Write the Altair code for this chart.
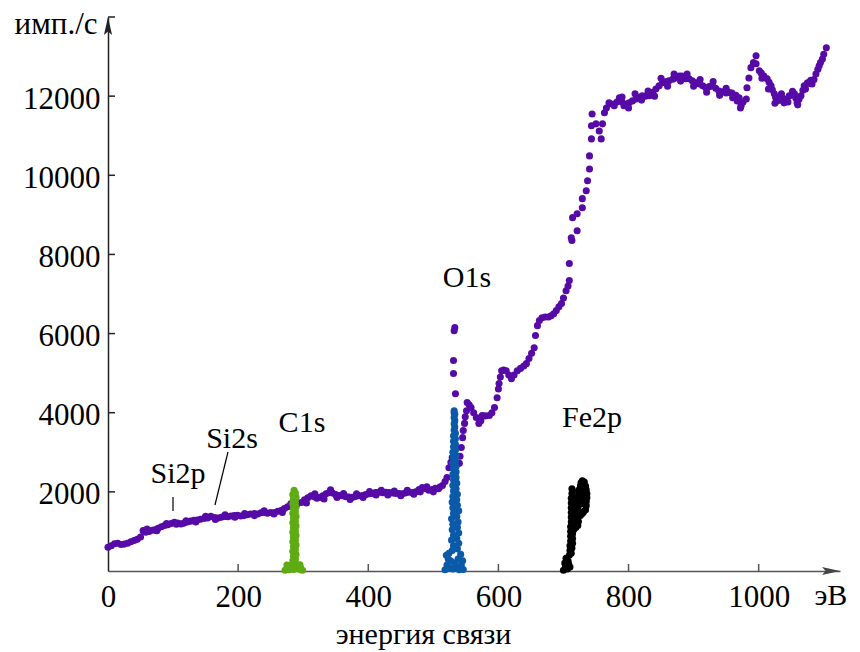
import altair as alt
import pandas as pd

# ---- data (E = binding energy, eV ; I = counts/s) ----
purple = [
    (0, 600), (5, 640), (10, 690), (15, 700), (20, 670), (25, 680), (30, 700), (35, 740), (40, 770),
    (45, 800), (50, 860), (54, 1020), (58, 980), (63, 1000), (68, 1030), (72, 1040), (77, 1080),
    (82, 1120), (87, 1150), (92, 1170), (97, 1200), (102, 1230), (107, 1210), (112, 1190), (117, 1210),
    (122, 1240), (127, 1260), (132, 1280), (137, 1290), (142, 1310), (148, 1330), (153, 1340),
    (158, 1380), (164, 1350), (169, 1340), (174, 1360), (179, 1380), (184, 1370), (189, 1390),
    (194, 1400), (199, 1410), (204, 1390), (209, 1400), (214, 1420), (219, 1440), (225, 1450),
    (230, 1440), (235, 1470), (240, 1480), (245, 1460), (250, 1480), (256, 1480), (261, 1510),
    (266, 1530), (271, 1580), (276, 1620), (281, 1700), (286, 1680), (291, 1690), (297, 1730),
    (302, 1800), (307, 1850), (312, 1900), (316, 1880), (321, 1840), (326, 1860), (330, 1900),
    (335, 1950), (340, 1980), (345, 1970), (350, 1930), (355, 1910), (360, 1900), (365, 1880),
    (370, 1870), (375, 1860), (380, 1880), (385, 1900), (391, 1910), (396, 1930), (401, 1950),
    (406, 1960), (411, 1980), (416, 1990), (422, 1980), (427, 1990), (432, 1980), (437, 1970),
    (442, 1960), (447, 1960), (452, 1950), (457, 1970), (462, 1990), (468, 1980), (473, 2000),
    (478, 2060), (483, 2110), (488, 2080), (493, 2040), (498, 2060), (503, 2090), (508, 2080),
    (514, 2160), (518, 2260), (521, 2360), (524, 2610), (527, 2750), (529, 2870),
    (531, 5320), (531, 4990), (532, 6070), (533, 6150), (534, 4480), (532, 4000),
    (540, 2720), (541, 2900), (543, 3120), (545, 3370), (546, 3550), (548, 3730), (549, 3900),
    (551, 4050), (552, 4260), (555, 4200), (558, 4130), (562, 4000), (566, 3880), (570, 3730),
    (573, 3800), (575, 3930), (580, 3920), (586, 3930), (590, 4000), (594, 4130), (598, 4380),
    (600, 4600), (601, 4740), (603, 4900), (605, 5060), (608, 5080), (612, 5060), (616, 4950),
    (620, 4860), (624, 4950), (629, 5060), (634, 5120), (639, 5180), (643, 5240), (647, 5370),
    (651, 5500), (655, 5640), (657, 5950), (660, 6200), (663, 6330), (667, 6400), (672, 6420),
    (677, 6420), (681, 6450), (685, 6500), (689, 6580), (693, 6680), (697, 6760), (700, 6900),
    (704, 7080), (707, 7200), (709, 7340), (709, 7770), (713, 8350), (712, 8420), (721, 8600),
    (714, 8930), (721, 9030), (729, 9180), (729, 9410), (735, 9610), (737, 9860), (740, 10160),
    (740, 10490), (743, 10920), (743, 11250), (744, 11550), (750, 11300), (755, 11120),
    (758, 10920), (760, 11300), (763, 11580), (766, 11700), (770, 11830), (774, 11800),
    (778, 11760), (782, 11850), (786, 11960), (790, 11850), (793, 11760), (797, 11800),
    (801, 11830), (806, 11880), (812, 11930), (816, 11970), (821, 12010), (826, 12000),
    (832, 12010), (837, 12100), (842, 12180), (847, 12260), (852, 12340), (857, 12360),
    (862, 12390), (868, 12430), (873, 12460), (878, 12510), (882, 12510), (888, 12440),
    (893, 12440), (898, 12390), (904, 12340), (909, 12310), (914, 12260), (919, 12210),
    (924, 12240), (929, 12260), (934, 12200), (939, 12130), (945, 12110), (950, 12080),
    (955, 12090), (959, 12080), (965, 12020), (970, 11960), (973, 11760), (976, 11850),
    (981, 11930), (982, 12210), (985, 12460), (988, 12720), (992, 12850), (996, 13020),
    (996, 12820), (1001, 12640), (1004, 12580), (1008, 12510), (1013, 12440), (1016, 12350),
    (1019, 12260), (1021, 12160), (1024, 12060), (1026, 11970), (1028, 11880), (1031, 11970),
    (1035, 12060), (1037, 11950), (1039, 11830), (1043, 11920), (1047, 12010), (1051, 12030),
    (1055, 12060), (1057, 11950), (1059, 11830), (1062, 11920), (1065, 12010), (1068, 12150),
    (1070, 12260), (1075, 12340), (1078, 12320), (1082, 12310), (1085, 12420), (1088, 12560),
    (1091, 12680), (1093, 12770), (1095, 12850), (1098, 12940), (1100, 13060), (1104, 13220),
]

# scattered points on the upper / lower edge of the purple band
purple_spread = [
    (60, 1060), (75, 1020), (90, 1200), (105, 1180), (120, 1270), (135, 1240), (150, 1380),
    (165, 1300), (180, 1420), (195, 1360), (210, 1450), (225, 1400), (240, 1520), (255, 1440),
    (268, 1480), (305, 1720), (318, 1950), (332, 1820), (342, 2050), (352, 1860), (362, 1960),
    (372, 1810), (382, 1950), (392, 1860), (402, 2010), (412, 1920), (420, 2040), (430, 1920),
    (440, 2020), (450, 1900), (460, 2040), (470, 1940), (480, 2000), (490, 2130), (500, 2000),
    (510, 2120), (790, 11980), (800, 11700), (810, 12060), (820, 11900), (830, 12130),
    (840, 12000), (850, 12450), (860, 12250), (870, 12560), (880, 12380), (890, 12560),
    (900, 12250), (910, 12420), (920, 12100), (930, 12370), (940, 12020), (950, 12200),
    (960, 11960), (967, 11880), (972, 11700), (1005, 12450), (1015, 12180), (1025, 11820),
    (1033, 11900), (1045, 11850), (1052, 12120), (1060, 11780), (1072, 12180), (1080, 12400),
]

c1s = [
    (272, 20), (276, 60), (280, 120), (284, 180), (288, 200), (292, 150), (296, 80), (299, 20),
    (275, 150), (295, 160), (278, 30), (296, 30), (285, 40), (290, 60), (282, 90), (292, 100),
    (284, 260), (288, 300), (285, 370), (289, 420), (284, 500), (288, 540), (285, 620), (289, 660),
    (284, 740), (288, 780), (285, 860), (289, 900), (284, 980), (288, 1020), (285, 1100),
    (289, 1140), (284, 1220), (288, 1260), (285, 1340), (289, 1380), (284, 1460), (288, 1500),
    (285, 1580), (289, 1620), (284, 1700), (288, 1740), (285, 1820), (289, 1860), (284, 1930),
    (288, 1970), (286, 2040),
]

o1s = [
    (518, 30), (521, 150), (523, 300), (520, 400), (525, 80), (530, 50), (535, 100), (540, 30),
    (543, 150), (546, 40), (527, 250), (538, 300), (542, 420), (524, 450), (533, 200), (545, 260),
    (529, 520), (537, 560), (531, 640), (539, 700), (528, 780), (536, 820), (531, 900),
    (539, 960), (529, 1040), (537, 1100), (530, 1180), (538, 1240), (528, 1320), (536, 1380),
    (531, 1460), (539, 1520), (530, 1600), (537, 1660), (529, 1740), (536, 1800), (530, 1880),
    (537, 1940), (531, 2020), (535, 2080), (530, 2160), (536, 2220), (531, 2300), (535, 2360),
    (530, 2440), (535, 2500), (531, 2580), (535, 2640), (530, 2720), (534, 2780), (531, 2860),
    (535, 2920), (530, 3000), (534, 3060), (531, 3140), (534, 3200), (531, 3280), (534, 3340),
    (531, 3420), (534, 3480), (532, 3560), (533, 3640), (532, 3720), (533, 3800), (532, 3880),
    (533, 3960), (532, 4050),
]

fe2p = [
    (700, 20), (703, 100), (706, 50), (702, 200), (707, 250), (710, 100), (704, 320), (708, 180),
    (709, 400), (712, 450), (710, 520), (713, 580), (710, 640), (714, 700), (711, 760), (714, 820),
    (711, 880), (714, 940), (711, 1000), (715, 1060), (711, 1120), (715, 1180), (712, 1240),
    (715, 1300), (712, 1360), (714, 1420), (712, 1480), (714, 1540), (712, 1600), (714, 1660),
    (712, 1720), (714, 1780), (712, 1840), (714, 1900), (713, 1960), (714, 2020), (713, 2080),
    (716, 1050), (719, 1100), (722, 1150), (723, 1250), (722, 1350), (723, 1450), (722, 1550),
    (723, 1650), (722, 1750), (723, 1850), (724, 1950), (724, 2050), (726, 2150), (727, 2230),
    (729, 2280), (732, 2250), (734, 2150), (735, 2050), (736, 1950), (736, 1850), (735, 1750),
    (735, 1650), (734, 1550), (731, 1500), (729, 1450), (727, 1800), (728, 2000), (726, 1400),
    (730, 2100), (731, 1900), (730, 1700),
]

x_label_values = [0, 200, 400, 600, 800, 1000]
x_tick_values = [200, 400, 600, 800, 1000]
y_label_values = [2000, 4000, 6000, 8000, 10000, 12000]
y_tick_values = [2000, 4000, 6000, 8000, 10000, 12000, 14000]

note_text = ["Si2p", "Si2s", "C1s", "O1s", "Fe2p", "эВ"]
note_E = [107.6, 190.6, 298.1, 551.7, 743.8, 1111]
note_I = [2451, 3336, 3740, 7405, 3866, -632]

leader_E1 = [99.9, 184.4]
leader_I1 = [1870, 3007]
leader_E2 = [99.9, 164.4]
leader_I2 = [1516, 1668]

X_MAX = 1125
Y_MAX = 14000

PURPLE = "#560aa6"
GREEN = "#5fab14"
BLUE = "#0b5aaa"
BLACK = "#000000"
FONT = "Liberation Serif"

W, H = 732, 554

# ---- frames ----
def frame(pairs):
    return pd.DataFrame(pairs, columns=["E", "I"])

df_p = frame(purple + purple_spread)
df_c = frame(c1s)
df_o = frame(o1s)
df_f = frame(fe2p)
df_notes = pd.DataFrame({"E": note_E, "I": note_I, "t": note_text})
df_lead = pd.DataFrame({"E": leader_E1, "I": leader_I1, "E2": leader_E2, "I2": leader_I2})
df_xt = pd.DataFrame({"E": x_tick_values})
df_yt = pd.DataFrame({"I": y_tick_values})
df_arrx = pd.DataFrame({"E": [X_MAX], "I": [0]})
df_arry = pd.DataFrame({"E": [0], "I": [Y_MAX]})

xscale = alt.Scale(domain=[0, X_MAX], nice=False, zero=False)
yscale = alt.Scale(domain=[0, Y_MAX], nice=False, zero=False)

xaxis = alt.Axis(
    values=x_label_values, format="d", ticks=False, tickSize=0, grid=False,
    labelFont=FONT, labelFontSize=31, labelColor="black", labelPadding=11,
    labelFlush=False, labelOverlap=False,
    domainColor="#555555", domainWidth=1.5,
    title="энергия связи", titleFont=FONT, titleFontSize=30, titleFontWeight="normal",
    titleColor="black", titleX=315, titleY=72, titleAlign="center", titleBaseline="alphabetic",
)
yaxis = alt.Axis(
    values=y_label_values, format="d", ticks=False, tickSize=0, grid=False,
    labelFont=FONT, labelFontSize=31, labelColor="black", labelPadding=8, labelOffset=3,
    labelFlush=False, labelOverlap=False,
    domainColor="#222222", domainWidth=1.5,
    title="имп./с", titleFont=FONT, titleFontSize=31, titleFontWeight="normal",
    titleColor="black", titleAngle=0, titleX=-11, titleY=16, titleAlign="right",
    titleBaseline="alphabetic",
)

X = alt.X("E:Q", scale=xscale, axis=xaxis)
Y = alt.Y("I:Q", scale=yscale, axis=yaxis)


def pts(df, color, size):
    return alt.Chart(df).mark_point(filled=True, size=size, opacity=1, color=color).encode(x=X, y=Y)


ytick = alt.Chart(df_yt).mark_rule(color="#222222", strokeWidth=1.5).encode(
    y=Y, x=alt.value(0), x2=alt.value(7))
xtick = alt.Chart(df_xt).mark_rule(color="#555555", strokeWidth=1.5).encode(
    x=X, y=alt.value(H), y2=alt.value(H - 7))

arrow_x = alt.Chart(df_arrx).mark_point(
    shape="M0,0 L-2,-0.45 L-1.6,0 L-2,0.45 Z", size=324, filled=True, opacity=1, color="#444444"
).encode(x=X, y=Y)
arrow_y = alt.Chart(df_arry).mark_point(
    shape="M0,0 L-0.45,2 L0,1.6 L0.45,2 Z", size=324, filled=True, opacity=1, color="#222222"
).encode(x=X, y=Y)

leaders = alt.Chart(df_lead).mark_rule(color="black", strokeWidth=1.2).encode(
    x=X, y=Y, x2=alt.X2("E2:Q"), y2=alt.Y2("I2:Q"))

notes = alt.Chart(df_notes).mark_text(
    font=FONT, fontSize=30, align="center", baseline="middle", color="black"
).encode(x=X, y=Y, text="t:N")

chart = alt.layer(
    ytick, xtick, pts(df_p, PURPLE, 50), pts(df_c, GREEN, 50), pts(df_o, BLUE, 50),
    pts(df_f, BLACK, 50), arrow_x, arrow_y, leaders, notes,
).properties(
    width=W, height=H,
    autosize=alt.AutoSizeParams(type="none"),
    padding={"left": 108, "top": 17, "right": 20, "bottom": 81},
).configure_view(stroke=None)

chart.save("out.html", embed_options={"renderer": "svg", "actions": False})
